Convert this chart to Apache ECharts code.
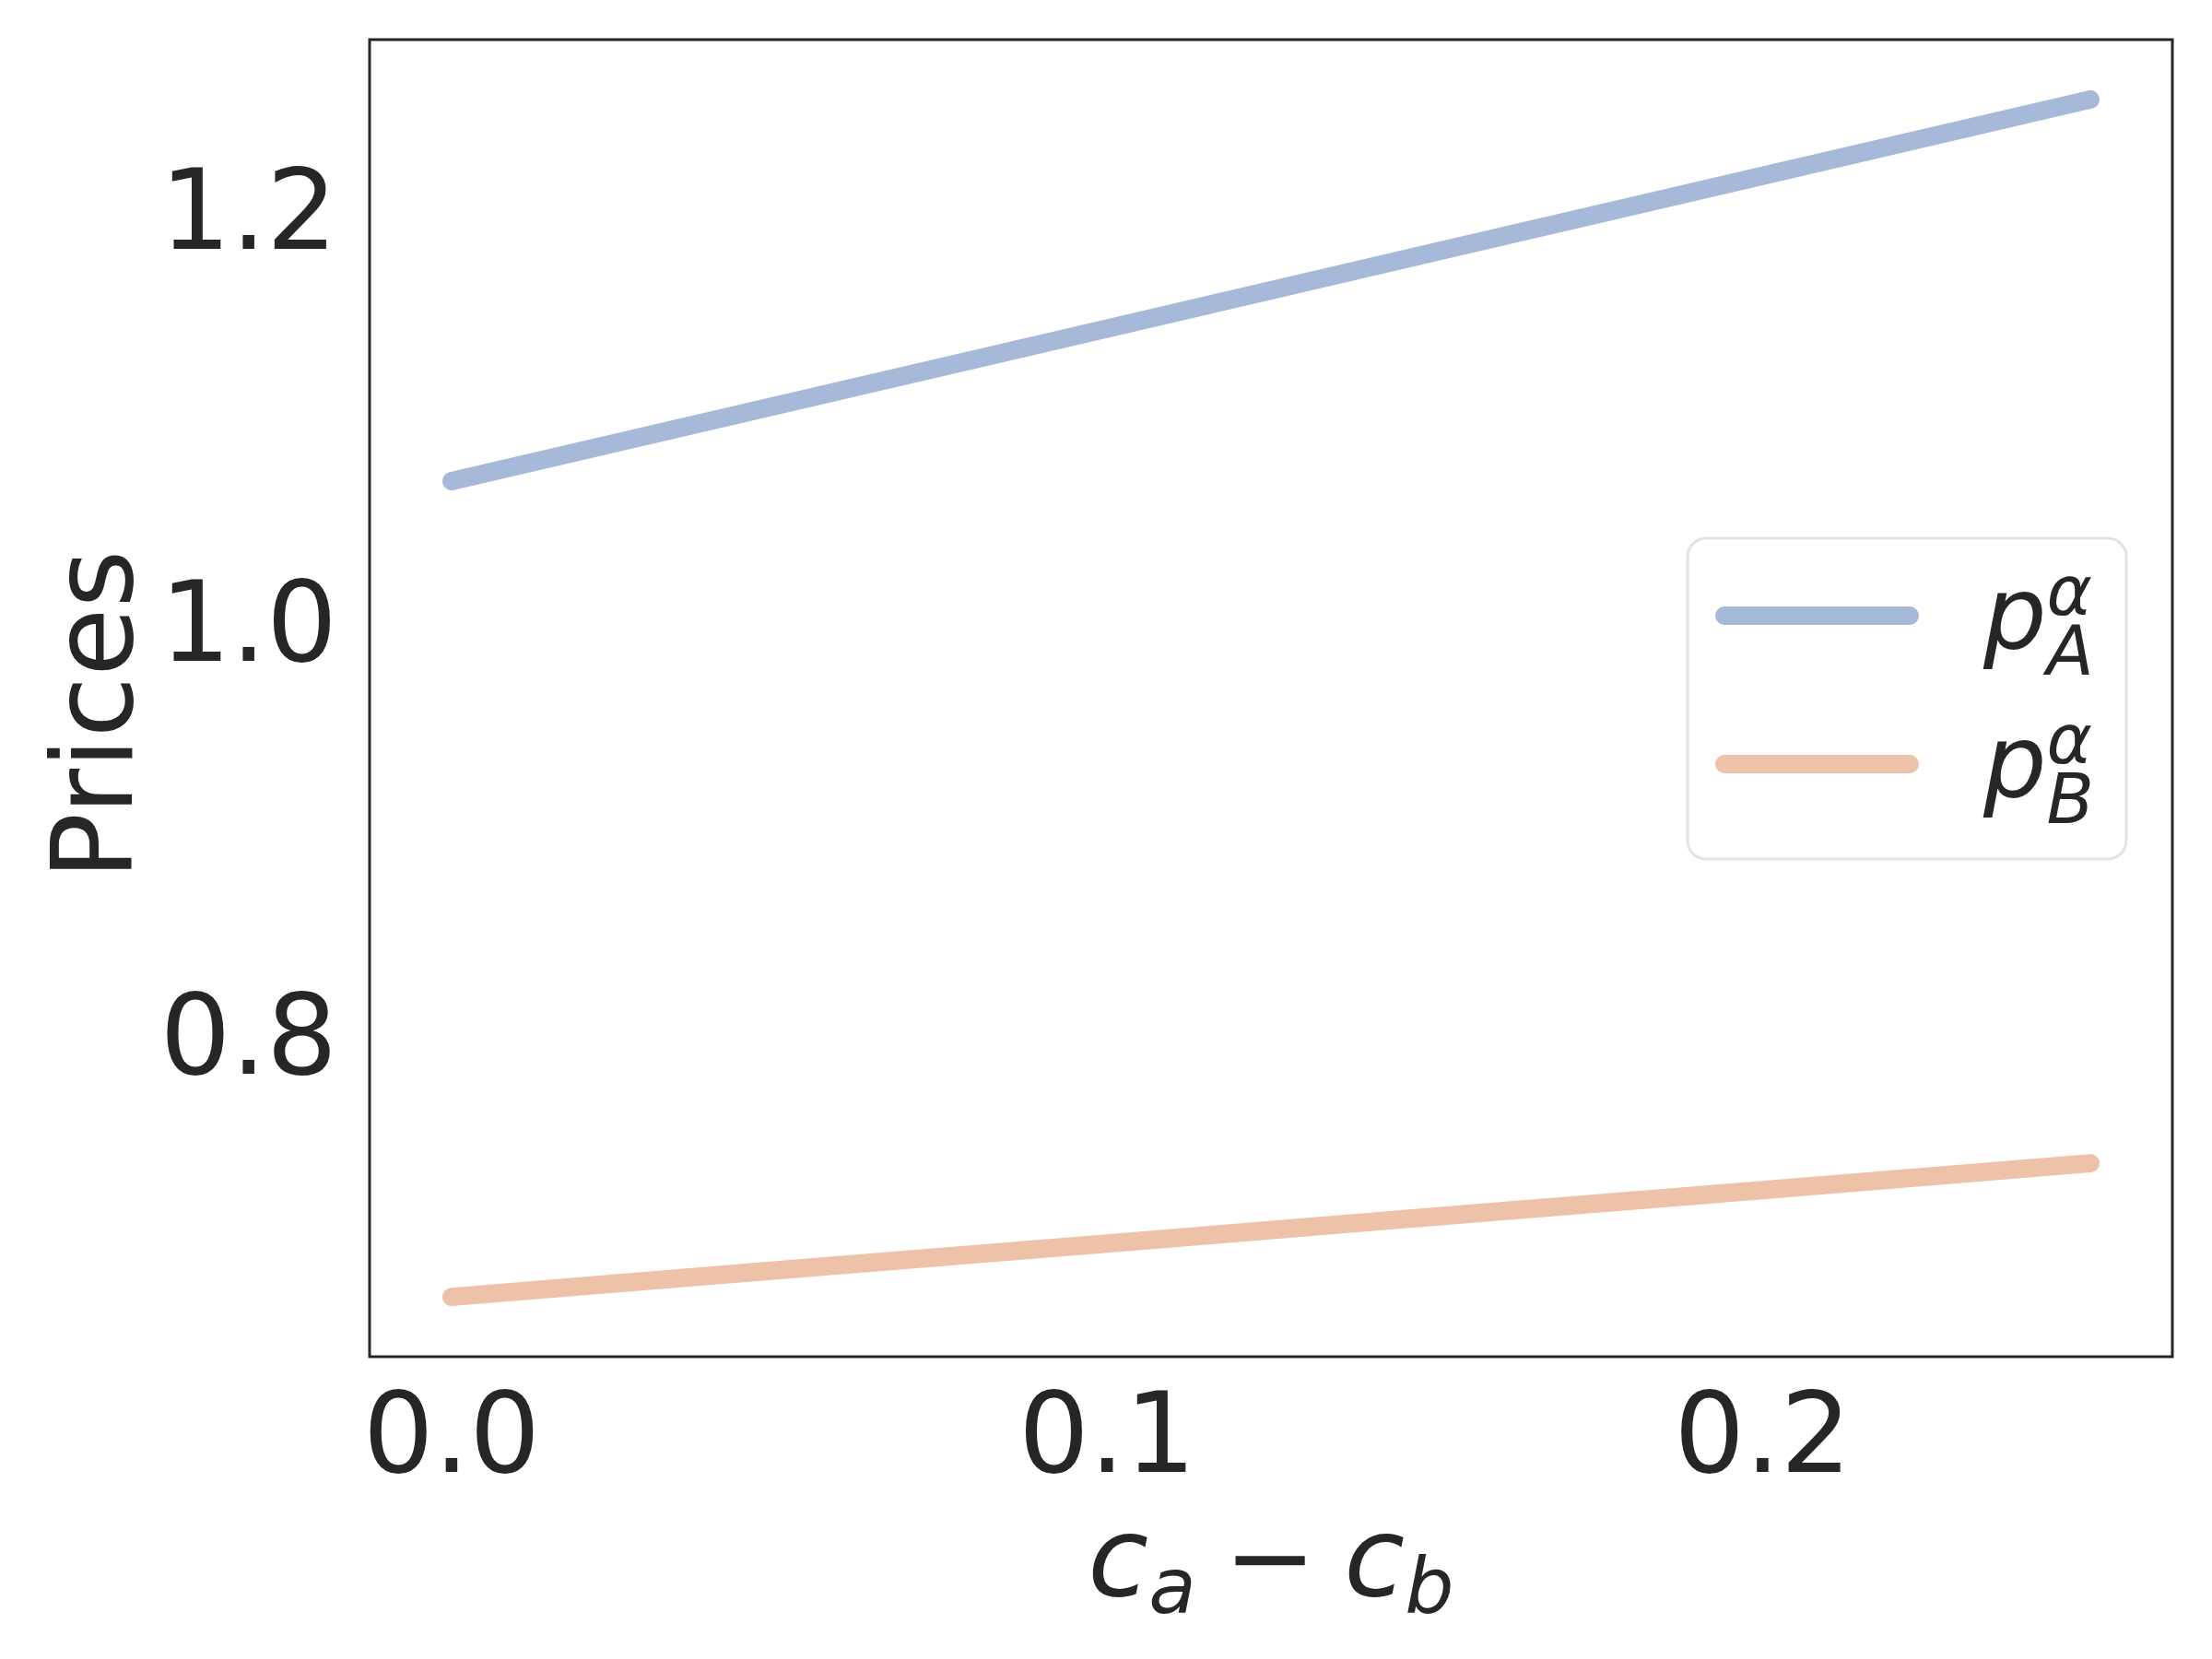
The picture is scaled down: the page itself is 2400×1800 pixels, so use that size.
<!DOCTYPE html>
<html>
<head>
<meta charset="utf-8">
<script src="https://cdn.jsdelivr.net/npm/echarts@6/dist/echarts.min.js"></script>
<style>
  html, body { margin: 0; padding: 0; background: #fff; }
  #chart { width: 2400px; height: 1800px; }
</style>
</head>
<body>
<div id="chart"></div>
<script>
// values
var costDiff = [0, 0.05, 0.1, 0.15, 0.2, 0.25];
var priceA = [1.0688, 1.1058, 1.1428, 1.1799, 1.2169, 1.2539];
var priceB = [0.6732, 0.6862, 0.6991, 0.7121, 0.7250, 0.7380];
var seriesNames = ['pA', 'pB'];
var legendLabels = {
	pA: '{p|p}{sup|α}{sub|A}',
	pB: '{p|p}{sup|α}{sub|B}'
};

var font = 'DejaVu Sans';
var ink = '#262626';

function pairs(xs, ys){
	var out = [];
	for (var i = 0; i < xs.length; i++) out.push([xs[i], ys[i]]);
	return out;
}

var capsule = 'path://M10,0L211,0A10,10,0,0,1,211,20L10,20A10,10,0,0,1,10,0Z';

var option = {
	backgroundColor: '#fff',
	animation: false,
	grid: {
		left: 401,
		right: 43,
		top: 43,
		bottom: 328,
		show: true,
		borderColor: ink,
		borderWidth: 3,
		backgroundColor: 'transparent'
	},
	legend: {
		orient: 'vertical',
		left: 1831,
		top: 584,
		padding: [22, 35, 21, 30],
		itemGap: 17,
		itemWidth: 221,
		itemHeight: 20,
		borderColor: '#e3e3e3',
		borderWidth: 3,
		borderRadius: 20,
		backgroundColor: 'rgba(255,255,255,0.8)',
		data: [
			{name: seriesNames[0], icon: capsule},
			{name: seriesNames[1], icon: capsule}
		],
		formatter: function(name){ return legendLabels[name]; },
		textStyle: {
			color: ink,
			fontFamily: font,
			rich: {
				p: {fontSize: 108, fontStyle: 'italic', fontFamily: font, color: ink, lineHeight: 164, padding: [16, 0, 0, 65]},
				sup: {fontSize: 75, fontStyle: 'italic', fontFamily: font, color: ink, verticalAlign: 'top', padding: [24, 0, 0, 0], width: 0, align: 'left'},
				sub: {fontSize: 75, fontStyle: 'italic', fontFamily: font, color: ink, verticalAlign: 'bottom'}
			}
		}
	},
	xAxis: {
		type: 'value',
		min: -0.0125,
		max: 0.2625,
		splitNumber: 3,
		axisLine: {show: false},
		axisTick: {show: false},
		splitLine: {show: false},
		axisLabel: {
			showMinLabel: false,
			showMaxLabel: false,
			margin: 33,
			fontSize: 121,
			fontFamily: font,
			color: ink,
			formatter: function(v){ return v.toFixed(1); }
		},
		name: '{i|c}{s|a}{m|−}{i|c}{s|b}',
		nameLocation: 'middle',
		nameGap: 158,
		nameTextStyle: {
			color: ink,
			fontFamily: font,
			rich: {
				i: {fontSize: 120, fontStyle: 'italic', fontFamily: font, color: ink, lineHeight: 140},
				s: {fontSize: 84, fontStyle: 'italic', fontFamily: font, color: ink, lineHeight: 80, verticalAlign: 'bottom'},
				m: {fontSize: 120, fontFamily: font, color: ink, lineHeight: 140, padding: [0, 30, 0, 30]}
			}
		}
	},
	yAxis: {
		type: 'value',
		min: 0.6442,
		max: 1.2829,
		splitNumber: 3,
		axisLine: {show: false},
		axisTick: {show: false},
		splitLine: {show: false},
		axisLabel: {
			showMinLabel: false,
			showMaxLabel: false,
			margin: 35,
			verticalAlign: 'top',
			lineHeight: 20,
			fontSize: 121,
			fontFamily: font,
			color: ink,
			formatter: function(v){ return v.toFixed(1); }
		},
		name: 'Prices',
		nameLocation: 'middle',
		nameGap: 229,
		nameMoveOverlap: false,
		nameTextStyle: {fontSize: 121, fontFamily: font, color: ink, padding: [0, 36, 0, 0]}
	},
	series: [{
		name: seriesNames[0],
		type: 'line',
		symbol: 'none',
		data: pairs(costDiff, priceA),
		itemStyle: {color: '#a6b9d8'},
		lineStyle: {color: '#a6b9d8', width: 20, cap: 'round'}
	}, {
		name: seriesNames[1],
		type: 'line',
		symbol: 'none',
		data: pairs(costDiff, priceB),
		itemStyle: {color: '#eec2a8'},
		lineStyle: {color: '#eec2a8', width: 20, cap: 'round'}
	}]
};

var myEcharts = echarts.init(document.getElementById('chart'));
myEcharts.setOption(option);
</script>
</body>
</html>
